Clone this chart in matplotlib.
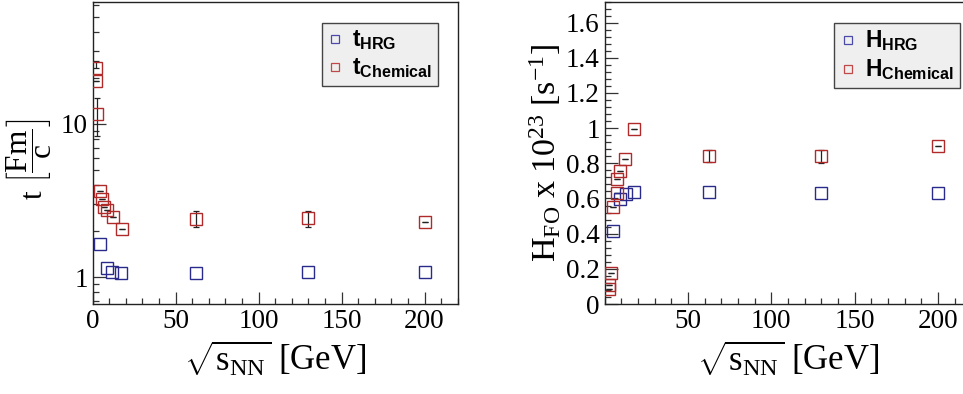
import matplotlib
matplotlib.use("Agg")
import matplotlib.pyplot as plt
from matplotlib.lines import Line2D
from matplotlib.ticker import MultipleLocator, FixedLocator, NullFormatter, FuncFormatter
import numpy as np

plt.rcParams['mathtext.fontset'] = 'custom'
plt.rcParams['mathtext.rm'] = 'Liberation Serif'
plt.rcParams['mathtext.it'] = 'Liberation Serif:italic'
plt.rcParams['mathtext.bf'] = 'Liberation Sans:bold'
plt.rcParams['mathtext.sf'] = 'Liberation Sans'
plt.rcParams['font.family'] = ['Liberation Serif', 'DejaVu Sans']

# ---- data: left panel (time scale t [fm/c]) ----
t_hrg_x = [4.4, 8.4, 11.8, 17.3, 62.4, 130, 200]
t_hrg_y = [1.64, 1.14, 1.08, 1.07, 1.07, 1.08, 1.08]

t_chem_x = [1.8, 1.8, 2.6, 4.4, 5.8, 7.0, 8.4, 12.2, 17.5, 62.4, 130, 200]
t_chem_y = [23.3, 19.2, 11.6, 3.65, 3.23, 2.87, 2.74, 2.46, 2.05, 2.39, 2.43, 2.28]
t_chem_err_lo = [0, 0, 3.3, 0, 0, 0, 0, 0, 0, 0.28, 0.32, 0]
t_chem_err_hi = [2.5, 0, 3.1, 0, 0, 0, 0, 0, 0, 0.32, 0.28, 0]

# ---- data: right panel (H_FO x 1e23 [s^-1]) ----
h_hrg_x = [4.8, 9.2, 12.6, 17.6, 62.4, 130, 200]
h_hrg_y = [0.416, 0.596, 0.628, 0.635, 0.635, 0.631, 0.631]

h_chem_x = [2.8, 2.8, 3.6, 5.2, 7.2, 7.6, 9.4, 12.4, 17.6, 62.4, 130, 200]
h_chem_y = [0.083, 0.108, 0.174, 0.552, 0.631, 0.713, 0.754, 0.826, 0.996, 0.841, 0.841, 0.896]
h_chem_err_lo = [0, 0, 0, 0, 0, 0, 0, 0, 0, 0.032, 0.041, 0]
h_chem_err_hi = [0, 0, 0, 0, 0, 0, 0, 0, 0, 0.034, 0.032, 0]

BLUE = '#2a2a8c'
RED = '#b02a2a'
LBLUE = '#4a4aa8'
LRED = '#c04848'
MS = 8

W, H = 963, 394
fig = plt.figure(figsize=(W / 100, H / 100), dpi=100)

def ax_rect(x0, x1, ytop, ybot):
    return [x0 / W, (H - ybot) / H, (x1 - x0) / W, (ybot - ytop) / H]

axL = fig.add_axes(ax_rect(92.7, 457.7, 1.5, 304))
axR = fig.add_axes(ax_rect(604.7, 604.7 + 366.5, 1.5, 304))

def style(ax):
    for s in ax.spines.values():
        s.set_linewidth(1.0)
        s.set_color('#222222')
    ax.tick_params(which='both', direction='in', top=False, right=False,
                   labelsize=19.5, color='#333333', width=0.9)
    ax.tick_params(which='major', length=9)
    ax.tick_params(which='minor', length=4.5)
    ax.xaxis.set_minor_locator(MultipleLocator(10))

def draw(ax, x, y, color, elo=None, ehi=None):
    if elo is not None:
        ax.errorbar(x, y, yerr=[elo, ehi], fmt='none', ecolor='#222222',
                    elinewidth=0.9, capsize=2.5, capthick=0.9, zorder=2)
    ax.plot(x, y, ls='none', marker='s', ms=MS, mfc='none', mec=color,
            mew=1.0, zorder=3)

# left panel
style(axL)
axL.set_yscale('log')
draw(axL, t_hrg_x, t_hrg_y, BLUE)
draw(axL, t_chem_x, t_chem_y, RED, t_chem_err_lo, t_chem_err_hi)
axL.set_xlim(0, 220)
axL.set_ylim(0.667, 63)
axL.xaxis.set_major_locator(FixedLocator([0, 50, 100, 150, 200]))
axL.yaxis.set_major_locator(FixedLocator([1, 10]))
axL.yaxis.set_major_formatter(FuncFormatter(lambda v, p: '%g' % v))
axL.yaxis.set_minor_locator(FixedLocator([0.7, 0.8, 0.9, 2, 3, 4, 5, 6, 7, 8, 9,
                                          20, 30, 40, 50, 60]))
axL.yaxis.set_minor_formatter(NullFormatter())
axL.set_xlabel(r'$\sqrt{\mathrm{s}_{\mathrm{NN}}}\ \mathrm{[GeV]}$', fontsize=25, labelpad=4)
axL.set_ylabel(r'$\mathrm{t}\ \left[\dfrac{\mathrm{Fm}}{\mathrm{c}}\right]$', fontsize=22.5)
axL.yaxis.set_label_coords(-0.105, 0.48)

# right panel
style(axR)
draw(axR, h_hrg_x, h_hrg_y, BLUE)
draw(axR, h_chem_x, h_chem_y, RED, h_chem_err_lo, h_chem_err_hi)
axR.set_xlim(0, 220)
axR.set_ylim(0, 1.72)
axR.xaxis.set_major_locator(FixedLocator([50, 100, 150, 200]))
axR.yaxis.set_major_locator(MultipleLocator(0.2))
axR.yaxis.set_minor_locator(MultipleLocator(0.04))
axR.yaxis.set_major_formatter(FuncFormatter(lambda v, p: '%g' % round(v, 2)))
axR.set_xlabel(r'$\sqrt{\mathrm{s}_{\mathrm{NN}}}\ \mathrm{[GeV]}$', fontsize=25, labelpad=4)
axR.set_ylabel(r'$\mathrm{H}_{\mathrm{FO}}\ \mathrm{x}\ \mathrm{10}^{23}\ \mathrm{[s}^{-1}\mathrm{]}$',
               fontsize=24.5, labelpad=2)

def legend(ax, lab1, lab2, anchor):
    h = [Line2D([], [], ls='none', marker='s', ms=6, mfc='none', mec=LBLUE, mew=0.9),
         Line2D([], [], ls='none', marker='s', ms=6, mfc='none', mec=LRED, mew=0.9)]
    lg = ax.legend(h, [lab1, lab2], loc='upper left', bbox_to_anchor=anchor,
                   borderaxespad=0, fancybox=False, framealpha=1, prop={'size': 16.5},
                   handlelength=0.7, handletextpad=0.4, borderpad=0.25,
                   labelspacing=0.2)
    fr = lg.get_frame()
    fr.set_facecolor('#efefef')
    fr.set_edgecolor('#444444')
    fr.set_linewidth(1.0)

legend(axL, r'$\mathbf{t}_{\mathbf{HRG}}$', r'$\mathbf{t}_{\mathbf{Chemical}}$', (0.627, 0.928))
legend(axR, r'$\mathbf{H}_{\mathbf{HRG}}$', r'$\mathbf{H}_{\mathbf{Chemical}}$', (0.6265, 0.928))

fig.savefig('out.png', dpi=100)
